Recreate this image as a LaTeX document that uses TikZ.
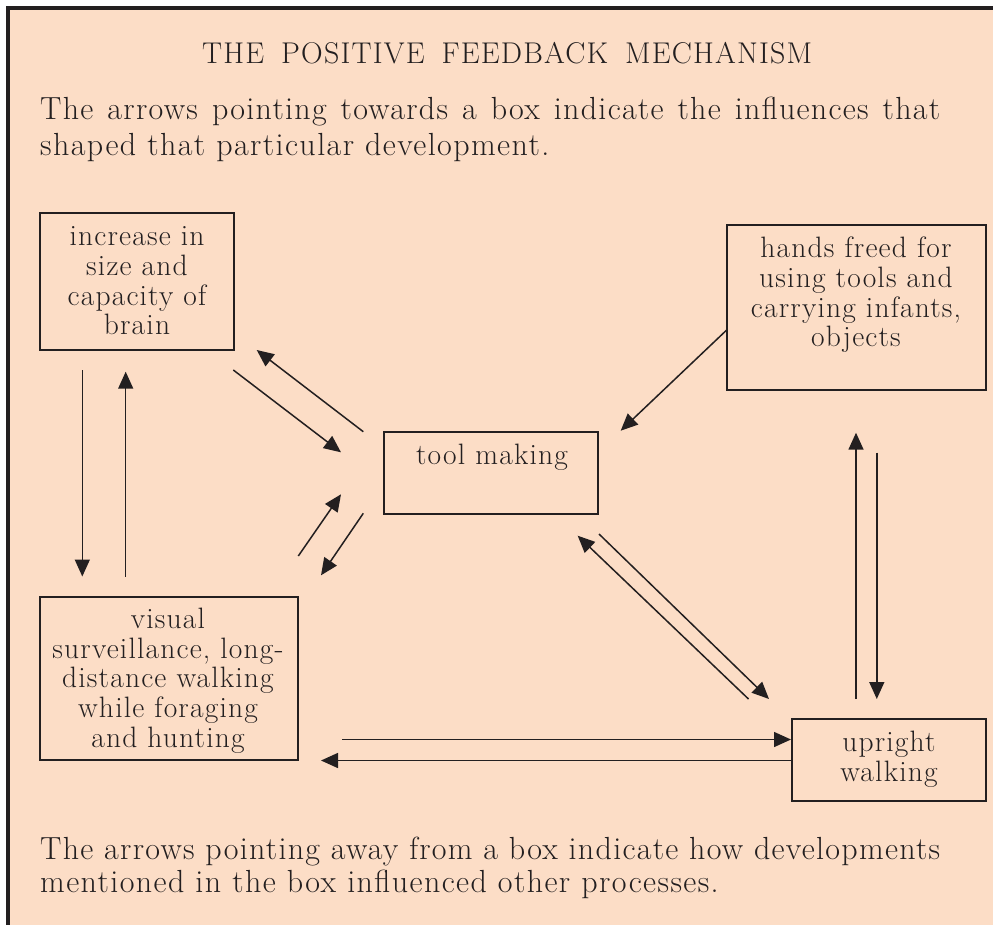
\documentclass[tikz,border=0pt]{standalone}
\usepackage{fontspec}
\newfontfamily\spacedfont{Latin Modern Roman}[LetterSpace=4]
\newfontfamily\widerfont{Latin Modern Roman}[LetterSpace=4.4]
\usetikzlibrary{arrows.meta}
\definecolor{peach}{RGB}{252,221,198}
\definecolor{ink}{RGB}{35,31,32}
\tikzset{
  box/.style={draw=ink, line width=1.8pt, rectangle, inner sep=0pt, fill=none},
  boxtext/.style={text=ink, align=center, inner sep=0pt, font=\spacedfont\fontsize{29.5}{29.7}\selectfont},
  para/.style={text=ink, inner sep=0pt, anchor=base west, font=\spacedfont\fontsize{32}{36}\selectfont},
  parawide/.style={text=ink, inner sep=0pt, anchor=base west, font=\widerfont\fontsize{32}{36}\selectfont},
  conn/.style={draw=ink, line width=1.5pt, -{Triangle[length=17pt,width=15pt]}},
}
\begin{document}
\begin{tikzpicture}[x=1pt,y=-1pt]
\useasboundingbox (0,0) rectangle (993,924);
\clip (0,0) rectangle (993,924);
\fill[white] (0,0) rectangle (993,924);
\draw[draw=ink, line width=3.2pt, fill=peach] (8,8) rectangle (1010,940);

% title and paragraphs
\node[text=ink, inner sep=0pt, anchor=base west, font=\spacedfont\fontsize{30}{34}\selectfont] (title) at (202,63.3)
  {\makebox[610pt][s]{THE\ \ POSITIVE\ \ FEEDBACK\ \ MECHANISM}};
\node[para] (top1) at (40,119.3) {\makebox[900pt][s]{The arrows pointing towards a box indicate the influences that}};
\node[parawide] (top2) at (40,155) {shaped that particular development.};
\node[para] (bot1) at (40,859.3) {\makebox[900pt][s]{The arrows pointing away from a box indicate how developments}};
\node[parawide] (bot2) at (40,892.7) {mentioned in the box influenced other processes.};

% boxes
\node[box, minimum width=194pt, minimum height=137pt] (brain) at (137,281.6) {};
\node[box, minimum width=259pt, minimum height=165pt] (hands) at (856.5,307.8) {};
\node[box, minimum width=214pt, minimum height=82pt] (tool) at (491.3,472.9) {};
\node[box, minimum width=258pt, minimum height=163pt] (visual) at (169,678.5) {};
\node[box, minimum width=194pt, minimum height=82pt] (upright) at (889,760) {};

% box texts
\node[boxtext] (braintext) at (137,284.5) {\strut increase in\\ size and\\ capacity of\\ brain\strut};
\node[boxtext] (handstext) at (856,296.5) {\strut hands freed for\\ using tools and\\ carrying infants,\\ objects\strut};
\node[boxtext] (tooltext) at (492,458.5) {\strut tool making\strut};
\node[boxtext] (visualtext) at (168,682) {\strut visual\\ surveillance, long-\\ distance walking\\ while foraging\\ and hunting\strut};
\node[boxtext] (uprighttext) at (889,760.5) {\strut upright\\ walking\strut};

% connector end points
\coordinate (a1s) at (82.3,370);   \coordinate (a1e) at (82.3,576.5);
\coordinate (a2s) at (125.7,576.7); \coordinate (a2e) at (125.7,371.7);
\coordinate (a3s) at (233.3,370);  \coordinate (a3e) at (341,452.3);
\coordinate (a4s) at (363.3,431.7); \coordinate (a4e) at (256.7,350);
\coordinate (a5s) at (298.3,556);  \coordinate (a5e) at (341,494.3);
\coordinate (a6s) at (363.3,513.3); \coordinate (a6e) at (321,575.3);
\coordinate (a7s) at (726.7,330);  \coordinate (a7e) at (620.7,430.7);
\coordinate (a8s) at (856,699);    \coordinate (a8e) at (856,432.7);
\coordinate (a9s) at (876.8,452.7); \coordinate (a9e) at (876.8,699);
\coordinate (a10s) at (748.5,699); \coordinate (a10e) at (577.7,535.7);
\coordinate (a11s) at (599,534);   \coordinate (a11e) at (769,699);
\coordinate (a12s) at (342,739.5); \coordinate (a12e) at (791,739.5);
\coordinate (a13s) at (792,760.5); \coordinate (a13e) at (321,760.5);

\draw[conn] (a1s) -- (a1e);
\draw[conn] (a2s) -- (a2e);
\draw[conn] (a3s) -- (a3e);
\draw[conn] (a4s) -- (a4e);
\draw[conn] (a5s) -- (a5e);
\draw[conn] (a6s) -- (a6e);
\draw[conn] (a7s) -- (a7e);
\draw[conn] (a8s) -- (a8e);
\draw[conn] (a9s) -- (a9e);
\draw[conn] (a10s) -- (a10e);
\draw[conn] (a11s) -- (a11e);
\draw[conn] (a12s) -- (a12e);
\draw[conn] (a13s) -- (a13e);
\end{tikzpicture}
\end{document}
